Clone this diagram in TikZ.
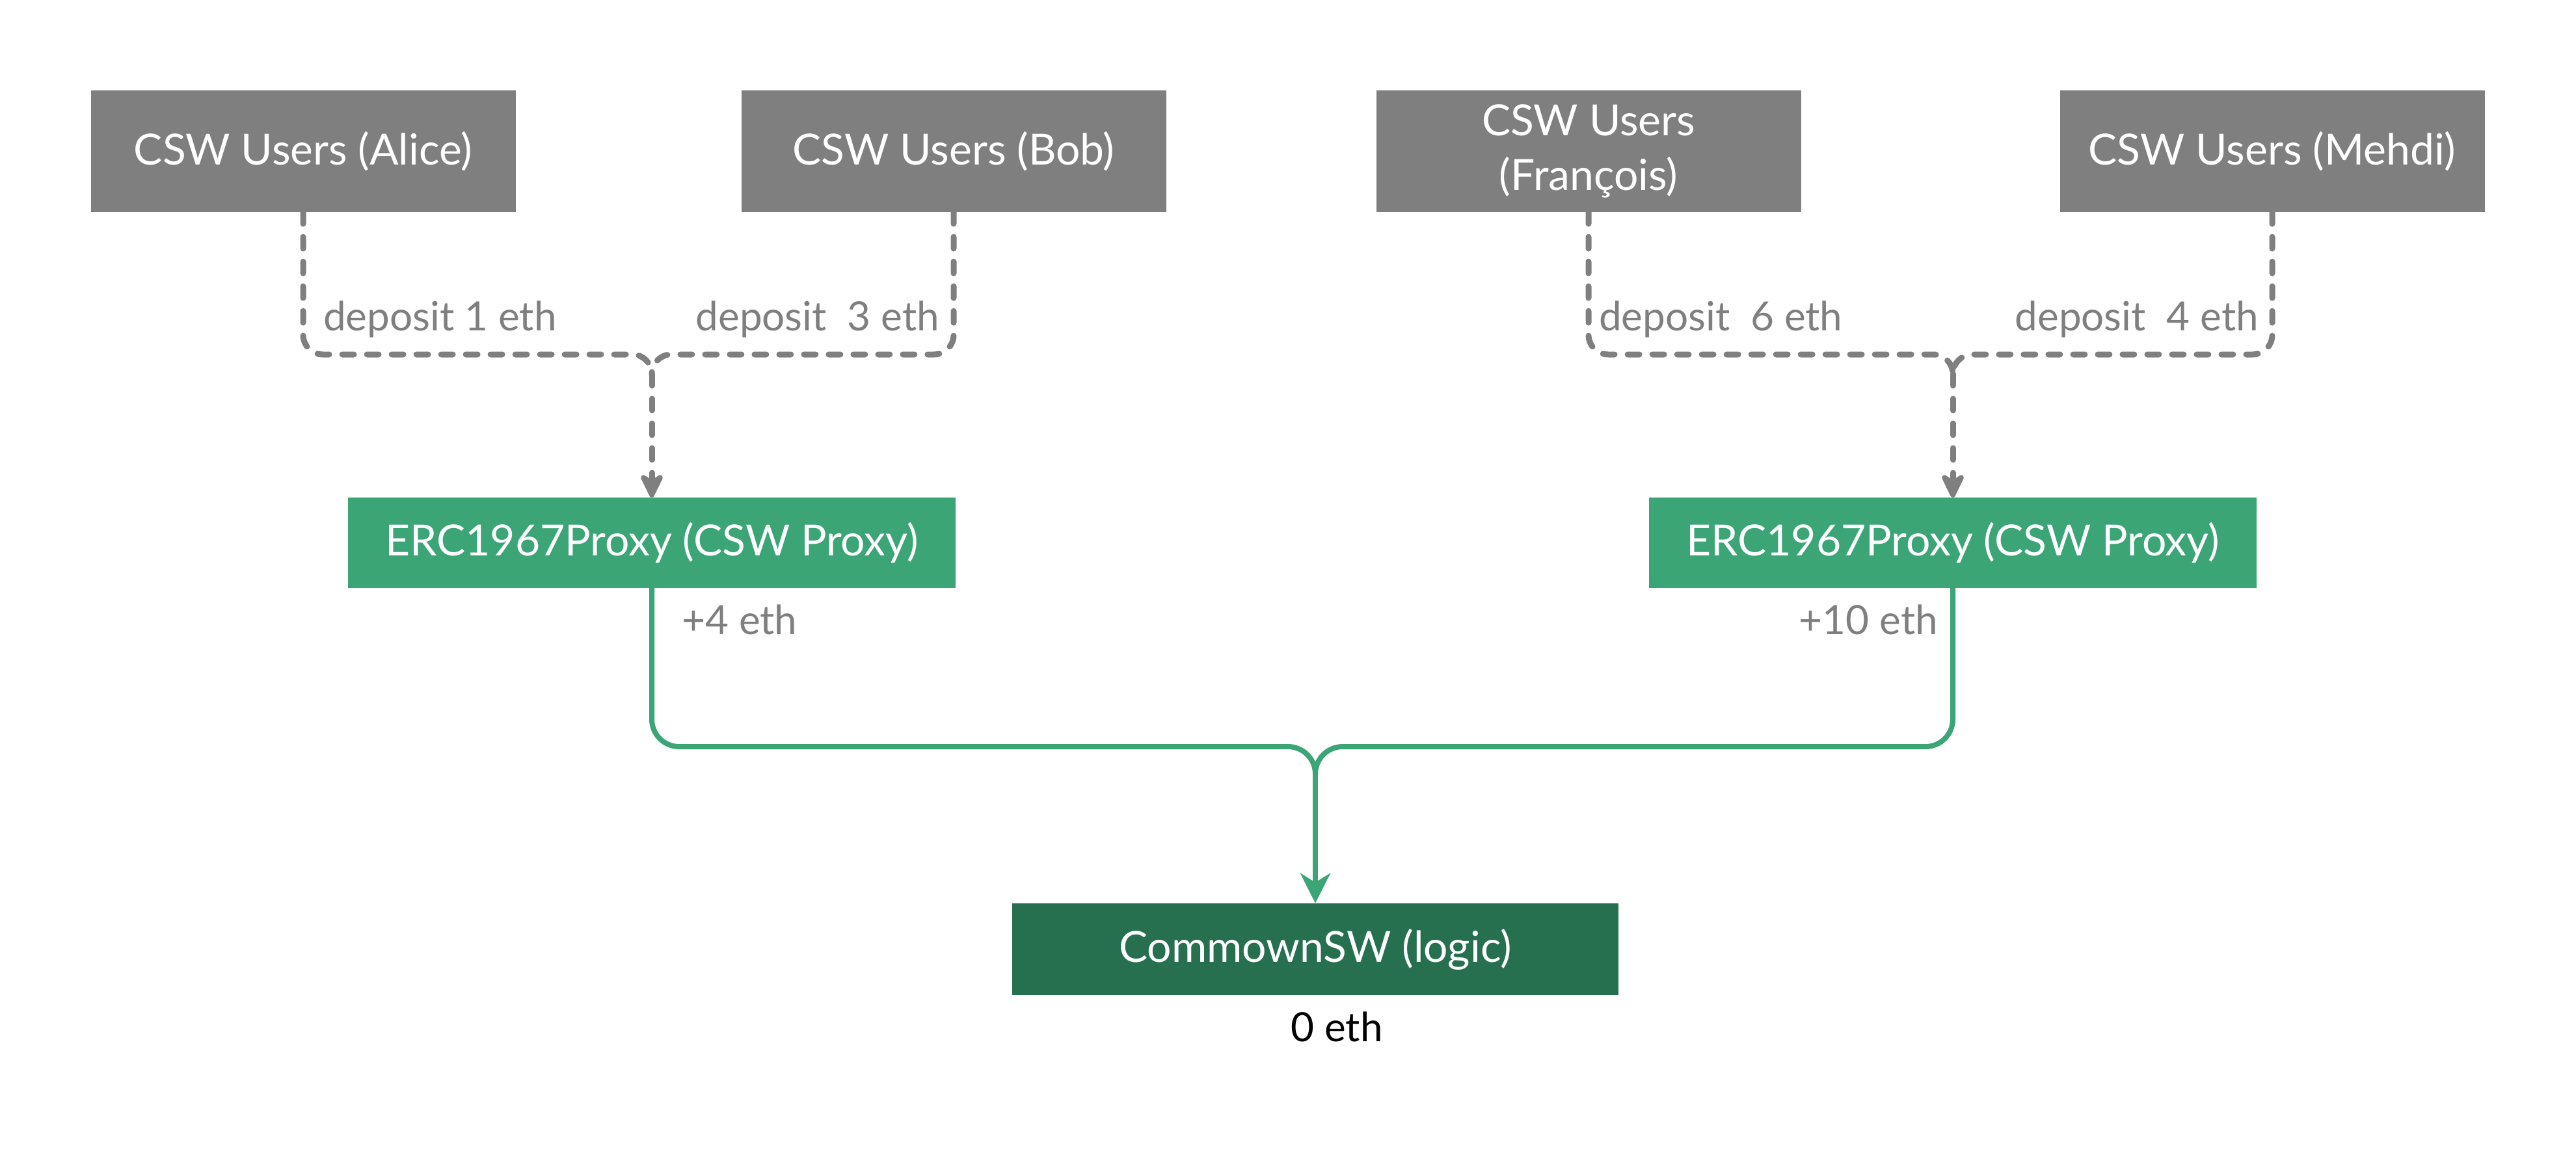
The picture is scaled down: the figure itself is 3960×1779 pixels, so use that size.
\documentclass[tikz,border=0pt]{standalone}
\usepackage{fontspec}
\setmainfont{Lato}
\usetikzlibrary{arrows.meta}
\definecolor{boxgray}{RGB}{127,127,127}
\definecolor{proxygreen}{RGB}{59,165,118}
\definecolor{logicgreen}{RGB}{38,112,80}
\tikzset{
  txt/.style={font=\fontsize{62}{82}\selectfont},
  boxtxt/.style={font=\fontsize{66}{84}\selectfont},
  userbox/.style={boxtxt, fill=boxgray, text=white, minimum width=653pt, minimum height=187pt, inner sep=0pt, align=center},
  proxybox/.style={boxtxt, fill=proxygreen, text=white, minimum width=934pt, minimum height=139pt, inner sep=0pt},
  logicbox/.style={boxtxt, fill=logicgreen, text=white, minimum width=932pt, minimum height=141pt, inner sep=0pt},
  lbl/.style={txt, text=boxgray, inner sep=0pt},
  graydash/.style={draw=boxgray, line width=9pt, line cap=round, dash pattern=on 18pt off 20pt, rounded corners=30pt},
  grayarrow/.style={graydash, -{Stealth[length=46pt, width=44pt, inset=14pt, round]}},
  greenline/.style={draw=proxygreen, line width=8pt, rounded corners=42pt},
  greenarrow/.style={greenline, -{Stealth[length=46pt, width=46pt, inset=14pt]}}
}
\begin{document}
\begin{tikzpicture}[x=1pt, y=-1pt]
\useasboundingbox (0,0) rectangle (3960,1779);
% boxes
\node[userbox] (alice) at (466,232.5) {CSW Users (Alice)};
\node[userbox] (bob) at (1466,232.5) {CSW Users (Bob)};
\node[userbox] (francois) at (2442,232.5) {CSW Users\\(François)};
\node[userbox] (mehdi) at (3493,232.5) {CSW Users (Mehdi)};
\node[proxybox] (proxyL) at (1002,834.5) {ERC1967Proxy (CSW Proxy)};
\node[proxybox] (proxyR) at (3002,834.5) {ERC1967Proxy (CSW Proxy)};
\node[logicbox] (logic) at (2022,1459.5) {CommownSW (logic)};
% junction coordinates
\coordinate (jL) at (1002,545);
\coordinate (jLd) at (1002,575);
\coordinate (jR) at (3002,545);
\coordinate (jRd) at (3002,575);
\coordinate (jG) at (2022,1148);
\coordinate (jGd) at (2022,1190);
% gray dashed connectors
\draw[graydash] (alice.south) |- (jL) -- (jLd);
\draw[graydash] (bob.south) |- (jL) -- (jLd);
\draw[grayarrow] (jLd) -- (proxyL.north);
\draw[graydash] (francois.south) |- (jR) -- (jRd);
\draw[graydash] (mehdi.south) |- (jR) -- (jRd);
\draw[grayarrow] (jRd) -- (proxyR.north);
% green connectors
\draw[greenline] (proxyL.south) |- (jG) -- (jGd);
\draw[greenline] (proxyR.south) |- (jG) -- (jGd);
\draw[greenarrow] (jGd) -- (logic.north);
% labels
\node[lbl, anchor=base west] (l1) at (497,508) {deposit 1 eth};
\node[lbl, anchor=base east] (l3) at (1444,508) {deposit\ \ 3 eth};
\node[lbl, anchor=base west] (l6) at (2458,508) {deposit\ \ 6 eth};
\node[lbl, anchor=base east] (l4) at (3472,508) {deposit\ \ 4 eth};
\node[lbl, anchor=base west] (p4) at (1048,975) {+4 eth};
\node[lbl, anchor=base east] (p10) at (2979,975) {+10 eth};
\node[txt, inner sep=0pt, anchor=base] (zero) at (2055,1601) {0 eth};
\end{tikzpicture}
\end{document}
